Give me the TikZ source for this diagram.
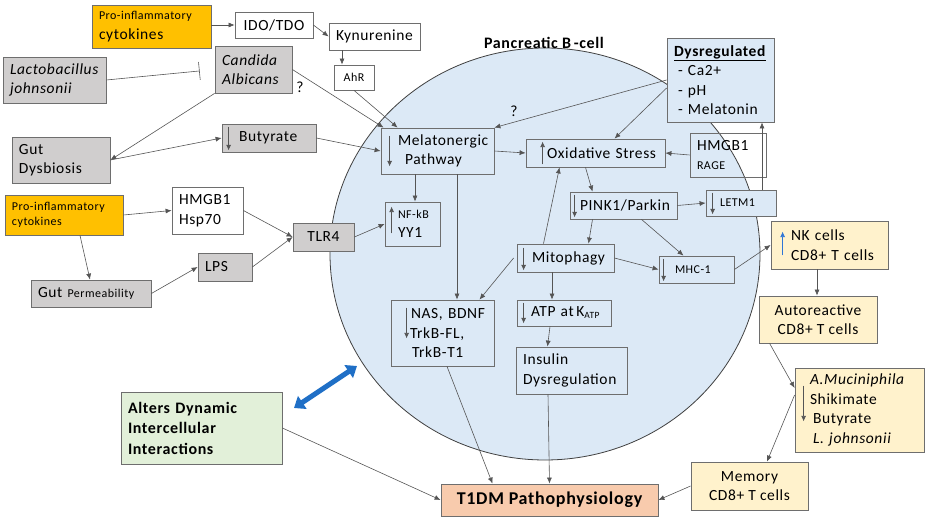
\documentclass[tikz,border=0pt]{standalone}
\usepackage{fontspec}
\setmainfont{Carlito}[LetterSpace=4]
\usetikzlibrary{arrows.meta,shapes.geometric}
\definecolor{cellblue}{HTML}{DCE9F6}
\definecolor{cellline}{HTML}{404040}
\definecolor{boxline}{HTML}{6E6E6E}
\definecolor{gutgray}{HTML}{D0CECE}
\definecolor{cytoorange}{HTML}{FFC000}
\definecolor{tcellyellow}{HTML}{FFF2CC}
\definecolor{altgreen}{HTML}{E2F0D9}
\definecolor{t1dmpink}{HTML}{F8CBAD}
\definecolor{linkgray}{HTML}{555555}
\definecolor{dblblue}{HTML}{1F6FC6}
\definecolor{nkblue}{HTML}{2E75D6}
\newcommand{\fmain}{\fontsize{15.5}{19.5}\selectfont}
\newcommand{\fsm}{\fontsize{12}{15}\selectfont}
\newcommand{\fbold}{\fontsize{16}{20.5}\selectfont\bfseries}
\tikzset{
  box/.style={draw=boxline, line width=0.8pt, inner xsep=7pt, inner ysep=1pt, align=left, font=\fmain},
  bx/.style 2 args={text width=#1pt, minimum height=#2pt},
  cbx/.style 2 args={minimum width=#1pt, minimum height=#2pt, align=center},
  gry/.style={box, fill=gutgray},
  org/.style={box, fill=cytoorange},
  blu/.style={box, fill=cellblue},
  ylw/.style={box, fill=tcellyellow},
  arr/.style={-{Latex[length=6pt,width=5pt]}, draw=linkgray, line width=0.6pt},
  inarr/.style={-{Latex[length=5.5pt,width=5pt]}, draw=linkgray, line width=0.7pt},
  dbl/.style={{Triangle[length=10pt,width=15pt]}-{Triangle[length=10pt,width=15pt]}, color=dblblue, line width=5pt},
  qmark/.style={font=\fmain, inner sep=0pt},
}
\begin{document}
\begin{tikzpicture}[x=1pt, y=-1pt, font=\fmain]
  \useasboundingbox (0,0) rectangle (929,521);

  % the cell
  \node[draw=cellline, fill=cellblue, line width=0.8pt, ellipse, minimum width=430pt, minimum height=412pt, inner sep=0pt] (bcell) at (545,254) {};
  \node[font=\fbold] (bcelltitle) at (544,43) {Pancreatic B\,-cell};

  % gut side
  \node[org, bx={105}{43}] (proA) at (151.5,26.5) {{\fsm Pro-inflammatory}\\cytokines};
  \node[box, cbx={78}{26}] (ido) at (274,25) {IDO/TDO};
  \node[box, bx={77}{27}] (kyn) at (374.5,36.5) {Kynurenine};
  \node[box, cbx={40}{25}, font=\fsm] (ahr) at (354,77.5) {AhR};
  \node[gry, bx={89}{46}, font=\fmain\itshape] (lacto) at (54.5,80) {Lactobacillus\\johnsonii};
  \node[gry, bx={63}{47}, font=\fmain\itshape] (candida) at (253.5,69.5) {Candida\\Albicans};
  \node[gry, bx={84}{46}] (dysb) at (61,160) {Gut\\Dysbiosis};
  \node[gry, bx={80}{28}] (buty) at (269,138) {\hspace*{10pt}Butyrate};
  \node[org, bx={104}{40}, font=\fsm] (proB) at (64,215) {Pro-inflammatory\\cytokines};
  \node[box, bx={57}{47}] (hsp) at (207.5,210.5) {HMGB1\\Hsp70};
  \node[gry, cbx={61}{28}] (tlr) at (323.5,237) {TLR4};
  \node[gry, bx={40}{28}] (lps) at (225,267) {LPS};
  \node[gry, bx={106}{27}] (perm) at (91,293.5) {Gut~{\fsm Permeability}};

  % inside the cell
  \node[blu, bx={99}{46}] (mela) at (437.5,151) {\hspace*{10pt}Melatonergic\\\hspace*{17pt}Pathway};
  \node[blu, bx={41}{44}] (nfkb) at (412.5,224) {\hspace*{6pt}{\fsm NF-kB}\\\hspace*{6pt}YY1};
  \node[blu, bx={125}{28}] (oxs) at (595.5,153) {\hspace*{14pt}Oxidative~Stress};
  \node[box, bx={62}{44}] (rage) at (728,155) {HMGB1\\{\fsm RAGE}};
  \node[blu, bx={93}{84}] (dysr) at (720.5,80) {\underline{\textbf{Dysregulated}}\\\hspace*{4pt}- Ca2+\\\hspace*{4pt}- pH\\\hspace*{4pt}- Melatonin};
  \node[blu, bx={93}{27}] (pink) at (623.5,205.5) {\hspace*{3pt}PINK1/Parkin};
  \node[blu, bx={56}{26}, font=\fsm] (letm) at (741,203) {\hspace*{7pt}LETM1};
  \node[blu, bx={83}{28}] (mito) at (565.5,258) {\hspace*{8pt}Mitophagy};
  \node[blu, bx={61}{27}, font=\fsm] (mhc) at (696.5,269.5) {\hspace*{9pt}MHC-1};
  \node[blu, bx={89}{66}] (nas) at (442.5,333) {\hspace*{13pt}NAS,~BDNF\\\hspace*{12pt}TrkB-FL,\\\hspace*{14pt}TrkB-T1};
  \node[blu, bx={80}{26}] (atp) at (564,313) {\hspace*{7pt}ATP~at\,K\raisebox{-2pt}{\fontsize{9.5}{10}\selectfont ATP}};
  \node[blu, bx={97}{47}] (ins) at (571.5,370.5) {Insulin\\Dysregulation};

  % immune side
  \node[ylw, bx={103}{48}] (nk) at (829.5,245) {\hspace*{13pt}NK~cells\\\hspace*{13pt}CD8+~T~cells};
  \node[ylw, cbx={118}{47}] (auto) at (818,319.5) {Autoreactive\\CD8+~T~cells};
  \node[ylw, bx={115}{84}] (akk) at (859.5,410) {\hspace*{8pt}\textit{A.Muciniphila}\\\hspace*{8pt}Shikimate\\\hspace*{11pt}Butyrate\\\hspace*{11pt}\textit{L.~johnsonii}};
  \node[ylw, cbx={117}{48}] (mem) at (749.5,486) {Memory\\CD8+~T~cells};

  % outcome
  \node[box, fill=t1dmpink, cbx={217}{32}, font=\fontsize{18}{21}\selectfont\bfseries] (t1dm) at (549.5,500) {T1DM Pathophysiology};
  \node[box, fill=altgreen, bx={147}{72}, font=\fbold] (alt) at (201.5,428) {Alters Dynamic\\Intercellular\\Interactions};

  \node[qmark] (qcand) at (300,87) {?};
  \node[qmark] (qdysr) at (514,111) {?};

  % links
  \draw[arr] (proA.east |- ido.west) -- (ido.west);
  \draw[arr] (ido.east) -- (kyn.west);
  \draw[arr] ([xshift=-12pt]ahr.north |- kyn.south) -- ([xshift=-12pt]ahr.north);
  \draw[arr] (ahr.south) -- ([xshift=17pt]mela.north west);
  \draw[arr] (candida.east) -- ([xshift=3pt]mela.north west);
  \draw[linkgray, line width=0.6pt, -{Bar[width=18pt]}, shorten >=15pt] (lacto.east) -- (candida.west);
  \draw[arr] (candida.south west) -- (dysb.east);
  \draw[arr] (dysb.east) -- (buty.west);
  \draw[arr] (buty.east) -- (mela.west);
  \draw[arr] (proB.east) -- (hsp.west);
  \draw[arr] ([xshift=16pt]proB.south) -- ([xshift=-1pt]perm.north);
  \draw[arr] (perm.east) -- (lps.west);
  \draw[arr] (hsp.east) -- (tlr.west);
  \draw[arr] (lps.east) -- (tlr.west);
  \draw[arr] (tlr.east) -- (nfkb.west);
  \draw[arr] ([xshift=2.5pt]nfkb.north |- mela.south) -- ([xshift=2.5pt]nfkb.north);
  \draw[arr] ([xshift=14.5pt]nas.north |- mela.south) -- ([xshift=14.5pt]nas.north);
  \draw[arr] (mela.east) -- (oxs.west);
  \draw[arr] (dysr.west) -- (mela.north east);
  \draw[arr] ([yshift=-8pt]dysr.west) -- ([xshift=19pt]oxs.north);
  \draw[arr] (rage.west) -- (oxs.east);
  \draw[arr] ([xshift=21pt]letm.north) -- ([xshift=21pt]letm.north |- dysr.south);
  \draw[arr] ([xshift=-10pt]oxs.south) -- ([xshift=-31pt]pink.north);
  \draw[arr] (pink.east) -- (letm.west);
  \draw[arr] ([xshift=-31pt]pink.south) -- ([xshift=23pt]mito.north);
  \draw[arr] ([xshift=18pt]pink.south) -- ([xshift=-13pt]mhc.north);
  \draw[arr] ([xshift=-22pt]mito.north) -- ([xshift=-36pt]oxs.south);
  \draw[arr] (mito.east) -- (mhc.west);
  \draw[arr] ([xshift=-3pt]mito.west) -- ([xshift=37pt]nas.north);
  \draw[arr] ([xshift=-13.5pt]mito.south) -- ([xshift=-13.5pt]mito.south |- atp.north);
  \draw[arr] ([xshift=-14pt]atp.south) -- ([xshift=-24pt]ins.north);
  \draw[arr] (mhc.east) -- (nk.west);
  \draw[arr] ([xshift=-12.5pt]nk.south) -- ([xshift=-12.5pt]nk.south |- auto.north);
  \draw[arr] ([xshift=11pt]auto.south west) -- ([yshift=22pt]akk.west);
  \draw[arr] ([yshift=15pt]akk.west) -- ([xshift=17.5pt]mem.north);
  \draw[arr] (mem.west) -- (t1dm.east);
  \draw[arr] ([xshift=4.5pt]nas.south) -- ([xshift=-57pt]t1dm.north);
  \draw[arr] ([xshift=-23.5pt]ins.south) -- (t1dm.north);
  \draw[arr] (alt.east) -- (t1dm.west);

  % two-way arrow between the cell and the interactions box
  \coordinate (dblA) at (294,408);
  \coordinate (dblB) at (357,366);
  \draw[dbl] (dblA) -- (dblB);

  % up / down marks inside the boxes
  \foreach \n/\dx/\t/\b in {buty/7/3/2, mela/9/8/8, pink/5/3/2, letm/7/3/2, mito/7/4/2, mhc/5/3/2, nas/16/8/28, atp/7/3/3, akk/9/18/31}
    {\draw[inarr] ([xshift=\dx pt,yshift=-\t pt]\n.north west) -- ([xshift=\dx pt,yshift=\b pt]\n.south west);}
  \foreach \n/\dx/\t/\b in {oxs/17/3/3, nfkb/7/5/13}
    {\draw[inarr] ([xshift=\dx pt,yshift=\b pt]\n.south west) -- ([xshift=\dx pt,yshift=-\t pt]\n.north west);}
  \draw[inarr, draw=nkblue] ([xshift=12pt,yshift=14pt]nk.south west) -- ([xshift=12pt,yshift=-11pt]nk.north west);
\end{tikzpicture}
\end{document}
